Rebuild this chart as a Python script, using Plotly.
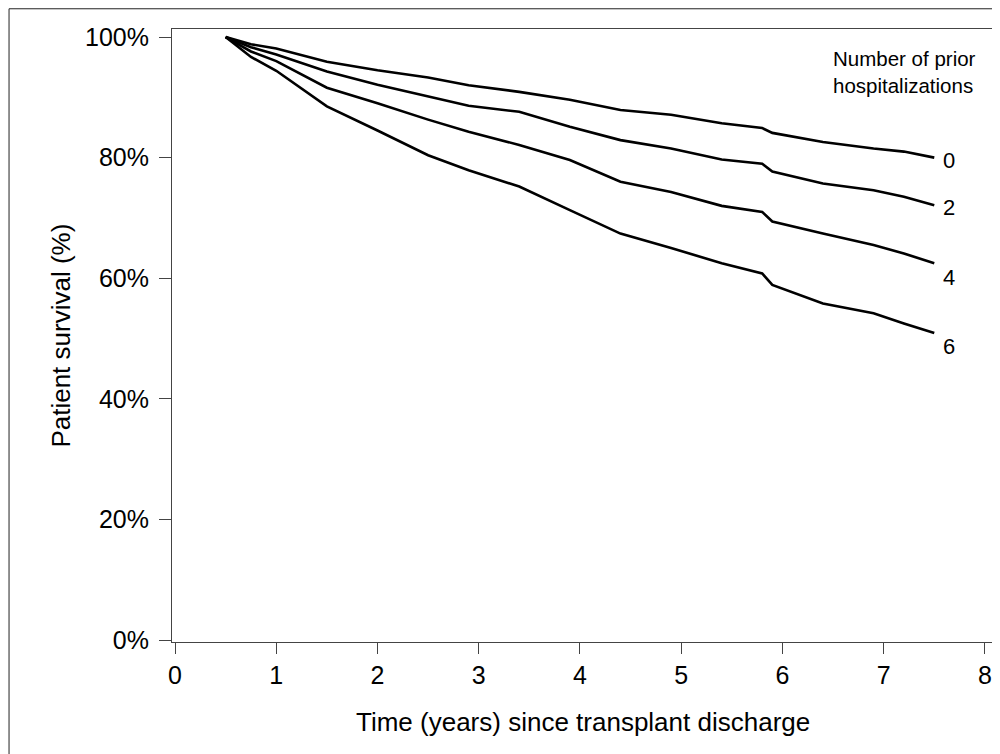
import plotly.graph_objects as go

# Years since transplant discharge
t = [0.5, 0.75, 1.0, 1.5, 2.0, 2.5, 2.9, 3.4, 3.9, 4.4, 4.9, 5.4, 5.8, 5.9, 6.4, 6.9, 7.2, 7.5]
# Patient survival (%) by number of prior hospitalizations
s0 = [100, 98.8, 98.1, 95.9, 94.5, 93.3, 92.0, 90.9, 89.6, 87.9, 87.1, 85.7, 84.9, 84.1, 82.6, 81.5, 81.0, 80.0]
s2 = [100, 98.3, 97.1, 94.3, 92.1, 90.2, 88.6, 87.6, 85.1, 82.9, 81.5, 79.7, 79.0, 77.7, 75.7, 74.6, 73.5, 72.1]
s4 = [100, 97.6, 96.0, 91.6, 89.0, 86.3, 84.3, 82.1, 79.6, 76.0, 74.3, 72.0, 71.0, 69.4, 67.4, 65.5, 64.1, 62.5]
s6 = [100, 96.7, 94.4, 88.5, 84.5, 80.4, 77.9, 75.2, 71.3, 67.4, 65.0, 62.5, 60.8, 58.9, 55.8, 54.2, 52.5, 50.9]

series = [("0", s0), ("2", s2), ("4", s4), ("6", s6)]
end_label_y = [79.6, 71.8, 60.2, 48.6]

x_ticks = [0, 1, 2, 3, 4, 5, 6, 7, 8]
y_ticks = [0, 20, 40, 60, 80, 100]
y_ticklabels = ["0%", "20%", "40%", "60%", "80%", "100%"]

FONT = "Liberation Sans, Arial, sans-serif"

fig = go.Figure()
for name, s in series:
    fig.add_trace(go.Scatter(x=t, y=s, mode="lines", name=name,
                             line=dict(color="black", width=2.6), showlegend=False))

for (name, s), ly in zip(series, end_label_y):
    fig.add_annotation(x=7.57, y=ly, text=name, showarrow=False, xanchor="left",
                       yanchor="middle", font=dict(family=FONT, size=22, color="black"))

fig.add_annotation(x=6.48, y=94.2, text="Number of prior<br>hospitalizations", showarrow=False,
                   xanchor="left", yanchor="middle", align="left",
                   font=dict(family=FONT, size=20.5, color="black"))

# Axis titles
fig.add_annotation(xref="paper", yref="paper", x=0.5, y=-0.131, yanchor="middle",
                   text="Time (years) since transplant discharge", showarrow=False,
                   font=dict(family=FONT, size=26, color="black"))
fig.add_annotation(xref="paper", yref="paper", x=-0.157, y=0.5, textangle=-90,
                   text="Patient survival (%)", showarrow=False,
                   font=dict(family=FONT, size=26, color="black"))

# Outer frame (left & top visible)
fig.add_shape(type="rect", xref="paper", yref="paper", x0=-0.1985, x1=1.1, y0=-0.3, y1=1.033,
              line=dict(color="#222", width=1))

fig.update_xaxes(range=[-0.03, 8.08], tickvals=x_ticks, ticks="outside", ticklen=11,
                 tickcolor="#444", showline=True, linecolor="#444", linewidth=1, mirror=True,
                 showgrid=False, zeroline=False,
                 tickfont=dict(family=FONT, size=25, color="black"))
fig.update_yaxes(range=[-0.33, 101.33], tickvals=y_ticks,
                 ticktext=[lbl + "\u2009" for lbl in y_ticklabels], ticks="outside",
                 ticklen=12, tickcolor="#444", showline=True, linecolor="#444", linewidth=1,
                 mirror=True, showgrid=False, zeroline=False,
                 tickfont=dict(family=FONT, size=25, color="black"))

fig.update_layout(width=992, height=746, plot_bgcolor="white", paper_bgcolor="white",
                  margin=dict(l=164, r=7, t=21, b=112))

fig.write_html("out.html")
